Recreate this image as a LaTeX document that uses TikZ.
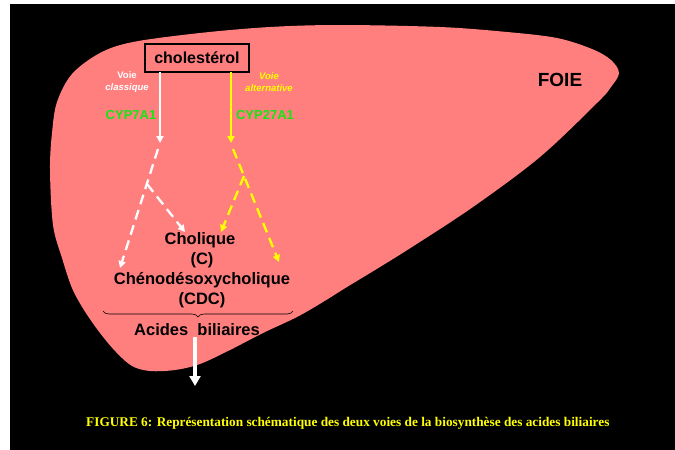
\documentclass[tikz,border=0pt]{standalone}
\usepackage{fontspec}
\setmainfont{Liberation Sans}
\newfontfamily\capfont{Liberation Serif}
\usetikzlibrary{arrows.meta,decorations.pathreplacing}
\definecolor{liver}{RGB}{255,127,127}
\definecolor{yel}{RGB}{255,255,0}
\definecolor{grn}{RGB}{20,230,20}
\tikzset{
  lbl/.style={inner sep=0pt, font=\bfseries\fontsize{16.5}{20}\selectfont, text=black},
  voie/.style={inner sep=0pt, align=center, font=\bfseries\fontsize{9.5}{12}\selectfont},
  cyp/.style={inner sep=0pt, text=grn, font=\bfseries\fontsize{13}{15}\selectfont},
  solidarr/.style={line width=2pt, -{Triangle[width=7pt,length=7pt]}},
  dasharr/.style={line width=2.3pt, dash pattern=on 10pt off 6pt, -{Triangle[width=7pt,length=7pt]}}
}
\begin{document}
\begin{tikzpicture}[x=1pt,y=-1pt]
\useasboundingbox (0,0) rectangle (675,450);
\fill[white] (0,0) rectangle (675,450);
\fill[black] (10,4) rectangle (675,450);
% liver
\fill[liver] plot[smooth cycle, tension=0.55] coordinates {
 (619,73) (611,87) (598,102) (540,157) (473,207) (412,247) (380,267) (347,287)
 (323,302) (297,317) (263,333) (230,350) (200,364) (175,370) (150,371) (132,366)
 (116,352) (100,333) (84,310) (72,288) (62,258) (53,225)
 (50,170) (52,133) (57,102) (72,74) (100,53) (133,42) (200,33) (270,27) (340,25)
 (440,27) (507,32) (557,38) (592,49) (611,60)};
\node[lbl, font=\bfseries\fontsize{19}{22}\selectfont] (foie) at (560,80) {FOIE};
% cholesterol box
\node[draw=black, line width=1.8pt, fill=liver, minimum width=104pt, minimum height=28pt, inner sep=0pt,
  font=\bfseries\fontsize{16}{18}\selectfont] (chol) at (197,58) {cholestérol};
\node[voie, text=white] (voie1) at (127,82) {Voie\\\itshape classique};
\node[voie, text=yel] (voie2) at (269,82) {\itshape Voie\\\itshape alternative};
\node[cyp] (cyp7) at (131,115) {CYP7A1};
\node[cyp] (cyp27) at (265,115) {CYP27A1};
% coordinates of the pathways
\coordinate (wa) at (160,72);
\coordinate (wt) at (160,143);
\coordinate (w1) at (158,149);
\coordinate (w2) at (120,268);
\coordinate (wb) at (147,184);
\coordinate (w3) at (185,232);
\coordinate (ya) at (231,72);
\coordinate (yt) at (231,143);
\coordinate (y1) at (233,149);
\coordinate (y2) at (279,262);
\coordinate (yb) at (244,176);
\coordinate (y3) at (221,232);
\draw[solidarr, white] (wa) -- (wt);
\draw[solidarr, yel] (ya) -- (yt);
\draw[dasharr, white] (w1) -- (w2);
\draw[dasharr, white] (wb) -- (w3);
\draw[dasharr, yel] (y1) -- (y2);
\draw[dasharr, yel] (yb) -- (y3);
% products
\node[lbl] (cholique) at (200,240) {Cholique};
\node[lbl] (c) at (202,260) {(C)};
\node[lbl] (cdc) at (202,280) {Chénodésoxycholique};
\node[lbl] (cdcabbr) at (202,300) {(CDC)};
\coordinate (brL) at (103,311);
\coordinate (brR) at (293,311);
\draw[black, line width=0.6pt, decorate, decoration={brace, amplitude=6pt}] (brR) -- (brL);
\node[lbl] (acides) at (197,330) {Acides\ \ biliaires};
\coordinate (out) at (195,386);
\draw[white, line width=3.5pt, -{Triangle[width=11pt,length=10pt]}] (acides.south -| out) ++(0,1) -- (out);
\node[anchor=base west, inner sep=0pt, text=yel, font=\capfont\bfseries\fontsize{13.3}{15}\selectfont] (caption) at (86,426)
 {FIGURE 6: Représentation schématique des deux voies de la biosynthèse des acides biliaires};
\end{tikzpicture}
\end{document}
